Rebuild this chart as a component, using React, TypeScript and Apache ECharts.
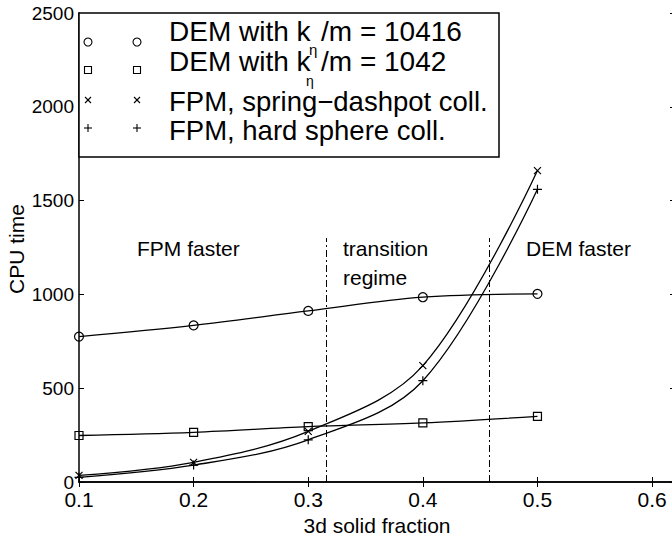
import React, { useEffect, useRef } from "react";
import * as echarts from "echarts";

const solidFraction = [0.1, 0.2, 0.3, 0.4, 0.5];
const demStiff = [775, 835, 912, 985, 1003];
const demSoft = [248, 265, 295, 315, 350];
const fpmSpring = [35, 105, 270, 620, 1660];
const fpmHard = [25, 90, 225, 540, 1560];
const regimeBounds = [0.316, 0.458];
const regimeLineTop = 1300;
const xTickMin = 0.1;
const xTickMax = 0.62;
const xTickStep = 0.1;
const yTickMin = 0;
const yTickMax = 2500;
const yTickStep = 500;

const FONT = "'Liberation Sans', Arial, Helvetica, sans-serif";
const CROSS = "path://M0,0L10,10M10,0L0,10";
const PLUS = "path://M5,0L5,10M0,5L10,5";

function pairs(ys: number[]) {
  return solidFraction.map((x, i) => [x, ys[i]]);
}

export default function App() {
  const ref = useRef<HTMLDivElement>(null);
  useEffect(() => {
    if (!ref.current) return;
    const chart = echarts.init(ref.current, undefined, { renderer: "svg" });
    const lineStyle = { color: "#000", width: 1.3 };
    const mk = (name: string, ys: number[], symbol: string, size: number, extra: any = {}) => ({
      name,
      type: "line",
      data: pairs(ys),
      smooth: 0.35,
      symbol,
      symbolSize: size,
      showAllSymbol: true,
      lineStyle,
      itemStyle: { color: "transparent", borderColor: "#000", borderWidth: 1.2 },
      emphasis: { disabled: true },
      z: 3,
      ...extra,
    });
    const lx1 = 88, lx2 = 137;
    const legendMarkers: any[] = [];
    [lx1, lx2].forEach((x) => {
      legendMarkers.push({ type: "circle", shape: { cx: x, cy: 42, r: 4 }, style: { fill: "none", stroke: "#000", lineWidth: 1.1 }, z: 101 });
      legendMarkers.push({ type: "rect", shape: { x: x - 3.5, y: 66.5, width: 7, height: 7 }, style: { fill: "none", stroke: "#000", lineWidth: 1.1 }, z: 101 });
      legendMarkers.push({ type: "line", shape: { x1: x - 3, y1: 97, x2: x + 3, y2: 103 }, style: { stroke: "#000", lineWidth: 1.1 }, z: 101 });
      legendMarkers.push({ type: "line", shape: { x1: x + 3, y1: 97, x2: x - 3, y2: 103 }, style: { stroke: "#000", lineWidth: 1.1 }, z: 101 });
      legendMarkers.push({ type: "line", shape: { x1: x - 4, y1: 128, x2: x + 4, y2: 128 }, style: { stroke: "#000", lineWidth: 1.1 }, z: 101 });
      legendMarkers.push({ type: "line", shape: { x1: x, y1: 124, x2: x, y2: 132 }, style: { stroke: "#000", lineWidth: 1.1 }, z: 101 });
    });
    const txt = (x: number, y: number, text: string, size: number, z = 101) => ({
      type: "text",
      x,
      y,
      z,
      style: { text, fill: "#000", font: `${size}px ${FONT}`, textVerticalAlign: "middle", textAlign: "left" },
    });
    chart.setOption({
      animation: false,
      backgroundColor: "#fff",
      textStyle: { fontFamily: FONT },
      grid: { left: 79, top: 13, width: 596, height: 469, containLabel: false, outerBoundsMode: "none" },
      xAxis: [
        {
          type: "value",
          min: xTickMin,
          max: xTickMax,
          interval: xTickStep,
          name: "3d solid fraction",
          nameLocation: "middle",
          nameGap: 29,
          nameTextStyle: { fontSize: 21, color: "#000", fontFamily: FONT },
          axisLine: { lineStyle: { color: "#000", width: 1.5 } },
          axisTick: { inside: true, length: 5, lineStyle: { color: "#000", width: 1 } },
          axisLabel: {
            color: "#000",
            fontSize: 21,
            fontFamily: FONT,
            margin: 7,
            showMaxLabel: false,
            formatter: (v: number) => (Math.abs(v * 10 - Math.round(v * 10)) < 1e-6 ? v.toFixed(1) : ""),
          },
          splitLine: { show: false },
        },
        {
          type: "value",
          position: "top",
          min: xTickMin,
          max: xTickMax,
          interval: xTickStep,
          axisLine: { lineStyle: { color: "#000", width: 1.5 } },
          axisTick: { inside: true, length: 5, lineStyle: { color: "#000", width: 1 } },
          axisLabel: { show: false },
          splitLine: { show: false },
        },
      ],
      yAxis: [
        {
          type: "value",
          min: yTickMin,
          max: yTickMax,
          interval: yTickStep,
          axisLine: { show: true, lineStyle: { color: "#000", width: 1.5 } },
          axisTick: { show: true, inside: true, length: 5, lineStyle: { color: "#000", width: 1 } },
          axisLabel: { color: "#000", fontSize: 19, fontFamily: FONT, margin: 5, formatter: (v: number) => String(v) },
          splitLine: { show: false },
        },
        {
          type: "value",
          position: "right",
          min: yTickMin,
          max: yTickMax,
          interval: yTickStep,
          axisLine: { show: true, lineStyle: { color: "#000", width: 1.5 } },
          axisTick: { show: true, inside: true, length: 5, lineStyle: { color: "#000", width: 1 } },
          axisLabel: { show: false },
          splitLine: { show: false },
        },
      ],
      series: [
        mk("DEM k 10416", demStiff, "circle", 9, {
          markLine: {
            silent: true,
            symbol: "none",
            label: { show: false },
            lineStyle: { color: "#000", width: 1, type: [7, 3, 2, 3] },
            data: regimeBounds.map((b) => [{ coord: [b, 0] }, { coord: [b, regimeLineTop] }]),
          },
        }),
        mk("DEM k 1042", demSoft, "rect", 8),
        mk("FPM spring-dashpot", fpmSpring, CROSS, 7),
        mk("FPM hard sphere", fpmHard, PLUS, 9),
      ],
      graphic: [
        {
          type: "text",
          x: 16,
          y: 249,
          rotation: Math.PI / 2,
          z: 50,
          style: { text: "CPU time", fill: "#000", font: `21px ${FONT}`, textAlign: "center", textVerticalAlign: "middle" },
        },
        { type: "rect", shape: { x: 79, y: 13, width: 420, height: 144 }, style: { fill: "#fff", stroke: "#000", lineWidth: 1.5 }, z: 100 },
        ...legendMarkers,
        txt(169, 31, "DEM with k", 28),
        txt(321, 31, "/m = 10416", 28),
        txt(169, 61, "DEM with k", 28),
        txt(309, 49, "η", 15),
        txt(321, 61, "/m = 1042", 28),
        txt(306, 81, "η", 14),
        txt(169, 101, "FPM, spring−dashpot coll.", 27.5),
        txt(169, 130, "FPM, hard sphere coll.", 27.5),
        txt(137, 248, "FPM faster", 21, 50),
        txt(343, 248, "transition", 21, 50),
        txt(343, 277, "regime", 21, 50),
        txt(526, 248, "DEM faster", 21, 50),
      ],
    });
    return () => chart.dispose();
  }, []);
  return <div ref={ref} style={{ position: "absolute", left: 0, top: 0, width: 672, height: 536 }} />;
}
